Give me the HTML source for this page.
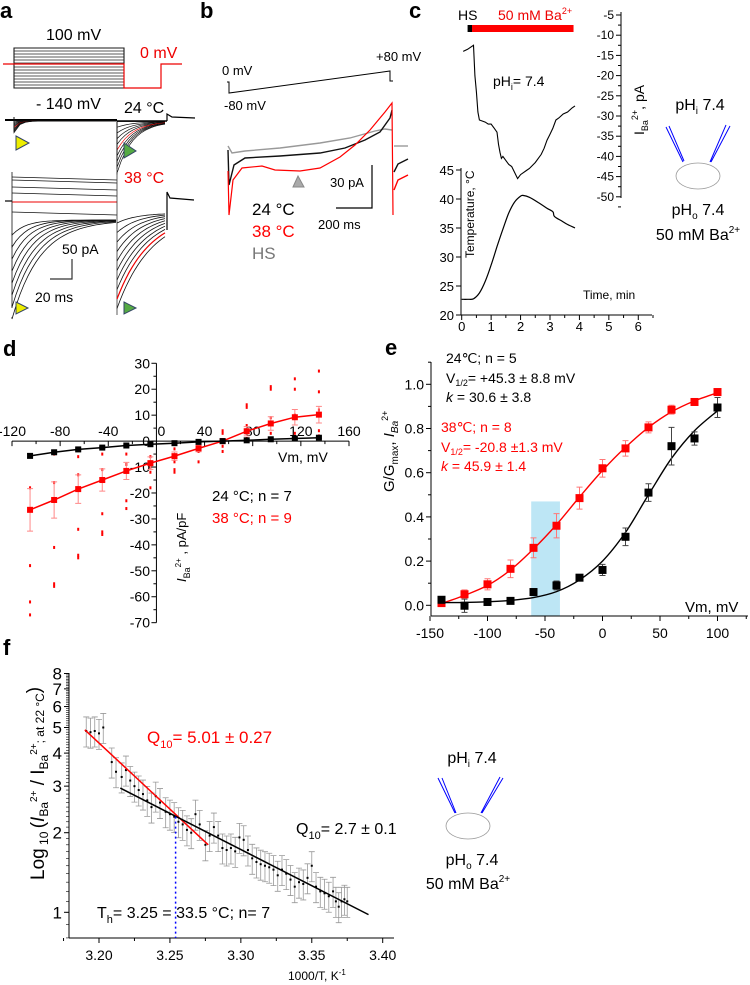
<!DOCTYPE html>
<html><head><meta charset="utf-8"><style>
html,body{margin:0;padding:0;background:#fff;overflow:hidden}
svg{display:block;font-family:"Liberation Sans",Arial,sans-serif}
</style></head><body>
<svg id="fig" width="750" height="985" viewBox="0 0 750 985" xmlns="http://www.w3.org/2000/svg">
<rect width="750" height="985" fill="#fff"/>
<g font-weight="bold" font-size="22">
<text x="0" y="18">a</text>
<text x="200" y="18">b</text>
<text x="409" y="18">c</text>
<text x="3" y="356">d</text>
<text x="385" y="355">e</text>
<text x="3" y="655">f</text>
</g>

<g id="pa">
<text x="46" y="40" font-size="16">100 mV</text>
<text x="140" y="58" font-size="16" fill="#e00">0 mV</text>
<text x="36" y="109" font-size="16">- 140 mV</text>
<text x="124" y="113" font-size="16">24 °C</text>
<text x="124" y="183" font-size="16" fill="#e00">38 °C</text>
<g id="protocol"></g>
<g id="traces24"></g>
<g id="traces38"></g>
<path d="M50 279 H72 V259" fill="none" stroke="#333" stroke-width="1.2"/>
<text x="62" y="254" font-size="14">50 pA</text>
<text x="35" y="302" font-size="14">20 ms</text>
<polygon points="16,136 29,143 16,150" fill="#ee0" stroke="#346" stroke-width="1"/>
<polygon points="124,143 136,151 124,158" fill="#5a4" stroke="#346" stroke-width="1"/>
<polygon points="16,302 28,308 16,314" fill="#ee0" stroke="#346" stroke-width="1"/>
<polygon points="124,302 136,308 124,314" fill="#5a4" stroke="#346" stroke-width="1"/>
</g>

<g id="pb">
<path d="M227 82 H229 V93 L390 71 V81 H393" fill="none" stroke="#000" stroke-width="1"/>
<text x="222" y="75" font-size="13">0 mV</text>
<text x="376" y="61" font-size="13">+80 mV</text>
<text x="224" y="110" font-size="13">-80 mV</text>
<polyline points="228,146 232,153 245,151 280,148 320,143 350,138 375,131 385,129 392,130" fill="none" stroke="#999" stroke-width="1.4"/>
<polyline points="228,150 229,185 234,165 245,158 280,156 320,153 345,148 365,140 380,132 390,118 392,110" fill="none" stroke="#111" stroke-width="1.4"/>
<polyline points="228,171 229,215 233,180 242,168 262,166 275,170 300,171 320,168 340,157 355,145 370,130 385,112 392,103 393,215" fill="none" stroke="#f00" stroke-width="1.2"/>
<polyline points="394,146 408,146" stroke="#999" stroke-width="1.4" fill="none"/>
<polyline points="394,172 398,164 408,159" stroke="#111" stroke-width="1.4" fill="none"/>
<polyline points="394,190 398,180 408,175" stroke="#f00" stroke-width="1.4" fill="none"/>
<polygon points="293,187 298,176 304,187" fill="#aaa" stroke="#888"/>
<path d="M336 208 H372 V165" fill="none" stroke="#000" stroke-width="1.2"/>
<text x="330" y="187" font-size="13">30 pA</text>
<text x="318" y="229" font-size="13">200 ms</text>
<text x="252" y="215" font-size="17">24 °C</text>
<text x="252" y="237" font-size="17" fill="#f00">38 °C</text>
<text x="252" y="259" font-size="17" fill="#777">HS</text>
</g>

<g id="pc">
<text x="458" y="20" font-size="14">HS</text>
<text x="498" y="20" font-size="14" fill="#e00">50 mM Ba<tspan font-size="9" dy="-6">2+</tspan></text>
<text x="493" y="86" font-size="14">pH<tspan font-size="9" dy="4">i</tspan><tspan dy="-4">= 7.4</tspan></text>
<text x="583" y="299" font-size="12">Time, min</text>
<text transform="translate(474,258) rotate(-90)" font-size="12">Temperature, °C</text>
<text transform="translate(644,135) rotate(-90)" font-size="14">I<tspan font-size="9" dy="4">Ba</tspan><tspan font-size="9" dy="-10">2+</tspan><tspan dy="6">, pA</tspan></text>
<g id="cAxes"></g>
<g>
<text x="700" y="110" font-size="16" text-anchor="middle">pH<tspan font-size="10" dy="4">i</tspan><tspan dy="-4"> 7.4</tspan></text>
<path d="M666 127 L683 162 M669 126 L684 161 M726 125 L710 162 M730 126 L711 162" stroke="#00f" stroke-width="1" fill="none"/>
<ellipse cx="698" cy="176" rx="22" ry="13" fill="none" stroke="#999" stroke-width="0.8"/>
<text x="698" y="215" font-size="16" text-anchor="middle">pH<tspan font-size="10" dy="4">o</tspan><tspan dy="-4"> 7.4</tspan></text>
<text x="698" y="240" font-size="16" text-anchor="middle">50 mM Ba<tspan font-size="10" dy="-7">2+</tspan></text>
</g>
</g>

<g id="pd">
<text x="278" y="462" font-size="14">Vm, mV</text>
<text x="212" y="501" font-size="15">24 °C; n = 7</text>
<text x="212" y="523" font-size="15" fill="#f00">38 °C; n = 9</text>
<text transform="translate(186,582) rotate(-90)" font-size="13"><tspan font-style="italic">I</tspan><tspan font-size="9" dy="4">Ba</tspan><tspan font-size="8" dy="-9">2+</tspan><tspan dy="5"> , pA/pF</tspan></text>
</g>

<g id="pe">
<rect id="cyanBand" fill="#bde6f5"/>
<text x="446" y="363" font-size="14">24℃; n = 5</text>
<text x="446" y="383" font-size="14">V<tspan font-size="9" dy="3">1/2</tspan><tspan dy="-3">= +45.3 ± 8.8 mV</tspan></text>
<text x="446" y="402" font-size="14"><tspan font-style="italic">k</tspan> = 30.6 ± 3.8</text>
<text x="441" y="432" font-size="14" fill="#f00">38℃; n = 8</text>
<text x="441" y="452" font-size="14" fill="#f00">V<tspan font-size="9" dy="3">1/2</tspan><tspan dy="-3">= -20.8 ±1.3 mV</tspan></text>
<text x="441" y="471" font-size="14" fill="#f00"><tspan font-style="italic">k</tspan> = 45.9 ± 1.4</text>
<text x="685" y="612" font-size="15">Vm, mV</text>
<text transform="translate(394,492) rotate(-90)" font-size="15">G/G<tspan font-size="10" dy="4">max</tspan><tspan dy="-4">, </tspan><tspan font-style="italic">I</tspan><tspan font-size="10" dy="4" font-style="italic">Ba</tspan><tspan font-size="9" dy="-10">2+</tspan></text>
</g>

<g id="pf">
<text x="147" y="743" font-size="17" fill="#f00">Q<tspan font-size="11" dy="5">10</tspan><tspan dy="-5">= 5.01 ± 0.27</tspan></text>
<text x="296" y="834" font-size="16">Q<tspan font-size="11" dy="5">10</tspan><tspan dy="-5">= 2.7 ± 0.1</tspan></text>
<text x="97" y="918" font-size="16">T<tspan font-size="11" dy="5">h</tspan><tspan dy="-5">= 3.25 = 33.5 °C; n= 7</tspan></text>
<text x="288" y="980" font-size="12">1000/T, K<tspan font-size="8" dy="-5">-1</tspan></text>
<text transform="translate(44,880) rotate(-90)" font-size="19">Log<tspan font-size="12" dy="4"> 10 </tspan><tspan dy="-4">(</tspan><tspan font-style="italic">I</tspan><tspan font-size="12" dy="4">Ba</tspan><tspan font-size="10" dy="-11">2+</tspan><tspan dy="7"> / I</tspan><tspan font-size="12" dy="4">Ba</tspan><tspan font-size="10" dy="-11">2+</tspan><tspan font-size="12" dy="7">; at 22 °C</tspan><tspan dy="-4">)</tspan></text>
<g>
<text x="472" y="763" font-size="16" text-anchor="middle">pH<tspan font-size="10" dy="4">i</tspan><tspan dy="-4"> 7.4</tspan></text>
<path d="M438 778 L455 813 M442 778 L456 813 M500 777 L481 813 M503 778 L482 813" stroke="#00f" stroke-width="1" fill="none"/>
<ellipse cx="468" cy="826" rx="22" ry="13" fill="none" stroke="#999" stroke-width="0.8"/>
<text x="472" y="865" font-size="16" text-anchor="middle">pH<tspan font-size="10" dy="4">o</tspan><tspan dy="-4"> 7.4</tspan></text>
<text x="468" y="889" font-size="16" text-anchor="middle">50 mM Ba<tspan font-size="10" dy="-7">2+</tspan></text>
</g>
</g>
</svg>
<script>
// panel c
const cTime = [0.05,0.2,0.3,0.4,0.45,0.5,0.55,0.6,0.8,0.9,1.0,1.1,1.2,1.25,1.3,1.35,1.4,1.5,1.6,1.7,1.8,1.9,2.0,2.1,2.2,2.3,2.5,2.7,2.8,2.9,3.0,3.1,3.2,3.3,3.45,3.6,3.75,3.85];
const cCurrent = [-14,-13.5,-13,-12.5,-20,-24,-29,-31,-31.5,-32,-32,-33,-34,-37,-39,-40.5,-40,-41,-42,-42.5,-44,-45.5,-44.5,-44,-43.5,-43,-41.5,-39.5,-38,-36,-34.5,-33,-31,-30.5,-29.5,-29,-28,-27.5];
const cTempTime = [0,0.2,0.4,0.6,0.8,1.0,1.2,1.4,1.6,1.8,2.0,2.1,2.3,2.6,2.9,3.1,3.15,3.4,3.6,3.85];
const cTemp = [22.7,22.7,22.8,23.8,25.8,28.6,31.8,34.8,37.6,39.5,40.5,40.6,40.3,39.4,38.4,37.8,37.0,36.2,35.6,35.0];
const cTempTicks = [20,25,30,35,40,45];
const cCurTicks = [-5,-10,-15,-20,-25,-30,-35,-40,-45,-50];
const cTimeTicks = [0,1,2,3,4,5,6];
// panel d
const dVm = [-105,-85,-65,-45,-25,-5,15,35,55,75,95,115,135];
const dRed = [-26.5,-22.7,-18.5,-15,-11.5,-8.5,-5.8,-2.8,0,3.8,6.8,9.2,10.2];
const dRedErr = [8.2,7,5.5,4.3,3.3,2.4,1.6,1.3,0.6,1.8,2.6,3,3.2];
const dBlack = [-5.7,-4.3,-3.2,-2.5,-1.7,-1.2,-0.8,-0.3,0,0.3,0.7,1,1.3];
const dBlackErr = [0.8,0.6,0.5,0.4,0.3,0.3,0.2,0.2,0.2,0.2,0.2,0.3,0.3];
const dRedPts = [[-6,-18,-48,-62,-67],[-5,-16,-41,-55,-56],[-6,-13,-34,-44,-45],[-5,-11,-28,-35,-36],[-5,-9,-12,-23,-26],[-6,-8,-10,-12,-18],[-3,-6,-8,-11,-12],[-2,-3,-4,-8],[-4,-2,0,3,4],[0,1,6,13,14],[1,3,9,20,21],[1,3,10,20,24],[2,4,12,19,27]];
const dXTicks = [-120,-80,-40,0,40,80,120,160];
const dYTicks = [30,20,10,0,-10,-20,-30,-40,-50,-60,-70];
// panel e
const eVm = [-140,-120,-100,-80,-60,-40,-20,0,20,40,60,80,100];
const eRed = [0.01,0.05,0.095,0.165,0.26,0.36,0.485,0.62,0.71,0.805,0.885,0.92,0.965];
const eRedErr = [0.015,0.02,0.025,0.04,0.045,0.055,0.05,0.04,0.035,0.025,0.02,0.015,0.01];
const eBlack = [0.025,-0.002,0.015,0.02,0.06,0.09,0.125,0.16,0.31,0.51,0.72,0.755,0.895];
const eBlackErr = [0.015,0.03,0.008,0.008,0.015,0.02,0.01,0.025,0.04,0.04,0.085,0.03,0.045];
const eRedFit = [0.008,0.045,0.09,0.16,0.255,0.365,0.49,0.61,0.715,0.805,0.875,0.925,0.962];
const eBlackFit = [0.012,0.013,0.016,0.022,0.035,0.062,0.115,0.2,0.33,0.5,0.665,0.79,0.88];
const eBand = [-62,-37,0.47];
const eXTicks = [-150,-100,-50,0,50,100];
const eYTicks = [0,0.2,0.4,0.6,0.8,1.0];
// panel f
const fX = [3.191,3.194,3.197,3.200,3.203,3.209,3.212,3.216,3.219,3.222,3.225,3.228,3.231,3.234,3.237,3.240,3.243,3.247,3.250,3.253,3.256,3.259,3.262,3.265,3.268,3.271,3.275,3.278,3.281,3.284,3.287,3.290,3.293,3.296,3.299,3.302,3.305,3.308,3.311,3.314,3.317,3.320,3.323,3.326,3.329,3.332,3.335,3.338,3.341,3.344,3.347,3.350,3.353,3.356,3.359,3.362,3.365,3.367,3.369,3.371,3.373,3.375];
const fY = [4.85,4.8,4.85,4.75,5.0,3.7,3.4,3.25,3.45,3.15,3.0,2.9,2.8,2.65,2.5,2.75,2.6,2.4,2.35,2.3,2.2,2.15,2.05,2.0,2.35,2.15,1.8,1.95,2.1,1.95,1.75,1.72,1.75,1.7,1.92,1.88,1.72,1.6,1.55,1.52,1.5,1.48,1.45,1.38,1.45,1.4,1.33,1.25,1.3,1.28,1.35,1.5,1.25,1.2,1.18,1.15,1.2,1.1,1.05,1.1,1.12,1.1];
const fRelErr = 0.13;
const fRedLine = [[3.190,4.9],[3.277,1.8]];
const fBlackLine = [[3.215,2.95],[3.390,0.98]];
const fTh = [3.254,2.3];
const fXTicks = [3.20,3.25,3.30,3.35,3.40];
const fYTicks = [1,2,3,4,5,6,7,8];

const NS='http://www.w3.org/2000/svg';
const svg=document.getElementById('fig');
function mk(tag,attrs,parent){const e=document.createElementNS(NS,tag);for(const k in attrs)e.setAttribute(k,attrs[k]);(parent||svg).appendChild(e);return e;}
function pts(xs,ys,sx,sy){return xs.map((x,i)=>sx(x).toFixed(1)+','+sy(ys[i]).toFixed(1)).join(' ');}
function smooth(P){let d='M'+P[0][0]+' '+P[0][1];for(let i=0;i<P.length-1;i++){const p0=P[Math.max(0,i-1)],p1=P[i],p2=P[i+1],p3=P[Math.min(P.length-1,i+2)];const c1=[p1[0]+(p2[0]-p0[0])/6,p1[1]+(p2[1]-p0[1])/6],c2=[p2[0]-(p3[0]-p1[0])/6,p2[1]-(p3[1]-p1[1])/6];d+=' C'+c1[0].toFixed(1)+' '+c1[1].toFixed(1)+' '+c2[0].toFixed(1)+' '+c2[1].toFixed(1)+' '+p2[0].toFixed(1)+' '+p2[1].toFixed(1);}return d;}

// PANEL A
(function(){
const g=document.getElementById('protocol');
const stepYs=[48,51,54,57,60,63,67,70,73,76,79,82,85,88];
mk('rect',{x:14,y:48,width:110,height:40,fill:'none',stroke:'#000','stroke-width':1},g);
stepYs.forEach(y=>{const l=mk('line',{x1:14,x2:124,y1:y,y2:y,stroke:'#222','stroke-width':0.7},g);

});
const r=mk('polyline',{points:'3,64 124,64 124,88 161,88 161,64 182,64',fill:'none',stroke:'#e00','stroke-width':1.2},g);


const t24=document.getElementById('traces24');
mk('line',{x1:5,x2:117,y1:120,y2:120,stroke:'#000','stroke-width':2},t24);
for(let i=0;i<10;i++){const a=i*1.3;let d='M14 117 L14 '+(121+a);for(let x=14;x<=117;x+=6){d+=' L'+x+' '+(121+a*Math.exp(-(x-14)/5)).toFixed(1);}
let d2='M117 121 L117 '+(123+i*2.6*2.2);for(let x=117;x<=167;x+=4){d2+=' L'+x+' '+(121.5+i*2.6*2.2*Math.exp(-(x-117)/16)).toFixed(1);}
const p=mk('path',{d:d+' '+d2,fill:'none',stroke:i==5?'#e00':'#111','stroke-width':0.7},t24);

}
mk('line',{x1:117,x2:167,y1:121,y2:121,stroke:'#000','stroke-width':1.6},t24);
mk('polyline',{points:'167,121 167,114 172,117 195,118',fill:'none',stroke:'#000','stroke-width':1.2},t24);
const t38=document.getElementById('traces38');
mk('line',{x1:5,x2:12,y1:201,y2:201,stroke:'#000','stroke-width':1.2},t38);
[177,180,187,193,212].forEach(y=>{mk('line',{x1:12,x2:117,y1:y,y2:y+3,stroke:'#111','stroke-width':0.8},t38);});
mk('line',{x1:12,x2:117,y1:202,y2:202,stroke:'#e00','stroke-width':1},t38);
mk('line',{x1:12,x2:12,y1:172,y2:308,stroke:'#111','stroke-width':0.8},t38);
for(let i=0;i<8;i++){const a=15+i*12;let d='M12 '+(218+a);for(let x=12;x<=117;x+=4){d+=' L'+x+' '+(220+a*Math.exp(-(x-12)/(14+i*2))).toFixed(1);}
mk('path',{d:d,fill:'none',stroke:'#111','stroke-width':0.8},t38);}
mk('line',{x1:117,x2:117,y1:172,y2:315,stroke:'#333','stroke-width':0.8},t38);
for(let i=0;i<10;i++){const a=10+i*9.5;let d='M117 '+(213+a);for(let x=117;x<=167;x+=3){d+=' L'+x+' '+(213+a*Math.exp(-(x-117)/(20+i*1.6))).toFixed(1);}
mk('path',{d:d,fill:'none',stroke:i==8?'#e00':'#111','stroke-width':i==8?1.2:0.8},t38);}
mk('polyline',{points:'167,230 167,192 170,198 194,200',fill:'none',stroke:'#000','stroke-width':1.2},t38);
})();

// PANEL C
(function(){
const g=document.getElementById('cAxes');
const tx=t=>461.7+t*29.43, ty=v=>315-(v-20)*5.8, cy=v=>15+(-5-v)*4.04;
mk('rect',{x:tx(0.2),y:25,width:tx(0.35)-tx(0.2),height:7,fill:'#000'},g);
const rb=mk('rect',{x:tx(0.35),y:25,width:tx(3.8)-tx(0.35),height:7,fill:'#f00'},g);


mk('line',{x1:461,x2:461,y1:168,y2:315,stroke:'#000'},g);
mk('line',{x1:461,x2:652,y1:315,y2:315,stroke:'#000'},g);
cTempTicks.forEach(v=>{mk('line',{x1:456,x2:461,y1:ty(v),y2:ty(v),stroke:'#000'},g);
const t=mk('text',{x:454,y:ty(v)+5,'font-size':13,'text-anchor':'end'},g);t.textContent=v;

});
cTimeTicks.forEach(v=>{mk('line',{x1:tx(v),x2:tx(v),y1:315,y2:320,stroke:'#000'},g);mk('line',{x1:tx(v+0.5),x2:tx(v+0.5),y1:315,y2:318,stroke:'#000'},g);
const t=mk('text',{x:tx(v),y:331,'font-size':13,'text-anchor':'middle'},g);t.textContent=v;

});
mk('line',{x1:621,x2:621,y1:12,y2:198,stroke:'#000'},g);
cCurTicks.forEach(v=>{mk('line',{x1:616,x2:621,y1:cy(v),y2:cy(v),stroke:'#000'},g);mk('line',{x1:618,x2:621,y1:cy(v-2.5),y2:cy(v-2.5),stroke:'#000'},g);
const t=mk('text',{x:614,y:cy(v)+4,'font-size':12,'text-anchor':'end'},g);t.textContent=v;

});
const cl=mk('polyline',{points:pts(cTime,cCurrent,tx,cy),fill:'none',stroke:'#000','stroke-width':1.1},g);


const tl=mk('path',{d:smooth(cTempTime.map((t,i)=>[tx(t),ty(cTemp[i])])),fill:'none',stroke:'#000','stroke-width':1.2},g);


})();

// PANEL D
(function(){
const g=document.getElementById('pd');
const sx=v=>12+(v+120)*337/280, sy=v=>441.1-v*2.594;
mk('line',{x1:12,x2:349,y1:sy(0),y2:sy(0),stroke:'#000'},g);
mk('line',{x1:sx(0),x2:sx(0),y1:sy(30),y2:sy(-70),stroke:'#000'},g);
dXTicks.forEach(v=>{mk('line',{x1:sx(v),x2:sx(v),y1:sy(0),y2:sy(0)+5,stroke:'#000'},g);if(v<160)mk('line',{x1:sx(v+20),x2:sx(v+20),y1:sy(0),y2:sy(0)+3,stroke:'#000'},g);
const t=mk('text',{x:sx(v)+(v==0?5:0),y:436,'font-size':14,'text-anchor':'middle'},g);t.textContent=v;

});
dYTicks.forEach(v=>{mk('line',{x1:sx(0)-5,x2:sx(0),y1:sy(v),y2:sy(v),stroke:'#000'},g);if(v>-70)mk('line',{x1:sx(0)-3,x2:sx(0),y1:sy(v-5),y2:sy(v-5),stroke:'#000'},g);
const t=mk('text',{x:150,y:sy(v)+5,'font-size':14,'text-anchor':'end'},g);t.textContent=v;

});
dRedPts.forEach((arr,i)=>arr.forEach(v=>{const r=mk('rect',{x:sx(dVm[i])-1,y:sy(v)-1.5,width:2,height:3,fill:'#f00'},g);

}));
[[dRed,dRedErr,'#f00','#f88'],[dBlack,dBlackErr,'#000','#555']].forEach(([ys,es,c,ec],k)=>{
ys.forEach((v,i)=>{const x=sx(dVm[i]);mk('path',{d:`M${x} ${sy(v+es[i])} V${sy(v-es[i])} M${x-3} ${sy(v+es[i])} h6 M${x-3} ${sy(v-es[i])} h6`,stroke:ec,'stroke-width':1,fill:'none'},g);});
const l=mk('polyline',{points:pts(dVm,ys,sx,sy),fill:'none',stroke:c,'stroke-width':1.5},g);


ys.forEach((v,i)=>{const m=mk('rect',{x:sx(dVm[i])-3,y:sy(v)-3,width:6,height:6,fill:c},g);

});
});
})();

// PANEL E
(function(){
const g=document.getElementById('pe');
const sx=v=>430+(v+150)*1.15, sy=v=>605.3-v*221;
const b=document.getElementById('cyanBand');
b.setAttribute('x',sx(eBand[0]));b.setAttribute('width',sx(eBand[1])-sx(eBand[0]));b.setAttribute('y',sy(eBand[2]));b.setAttribute('height',616-sy(eBand[2]));
mk('line',{x1:431,x2:431,y1:362,y2:616,stroke:'#000'},g);
mk('line',{x1:431,x2:748,y1:616,y2:616,stroke:'#000'},g);
eXTicks.forEach(v=>{mk('line',{x1:sx(v),x2:sx(v),y1:616,y2:621,stroke:'#000'},g);mk('line',{x1:sx(v+25),x2:sx(v+25),y1:616,y2:619,stroke:'#000'},g);
const t=mk('text',{x:sx(v),y:638,'font-size':14,'text-anchor':'middle'},g);t.textContent=v;

});
eYTicks.forEach(v=>{mk('line',{x1:426,x2:431,y1:sy(v),y2:sy(v),stroke:'#000'},g);mk('line',{x1:428,x2:431,y1:sy(v+0.1),y2:sy(v+0.1),stroke:'#000'},g);
const t=mk('text',{x:424,y:sy(v)+5,'font-size':14,'text-anchor':'end'},g);t.textContent=v.toFixed(1);

});
[[eRed,eRedErr,eRedFit,'#f00','#f77'],[eBlack,eBlackErr,eBlackFit,'#000','#444']].forEach(([ys,es,fit,c,ec],k)=>{
const f=mk('path',{d:smooth(eVm.map((x,i)=>[sx(x),sy(fit[i])])),fill:'none',stroke:c,'stroke-width':1.4},g);


ys.forEach((v,i)=>{const x=sx(eVm[i]);mk('path',{d:`M${x} ${sy(v+es[i])} V${sy(v-es[i])} M${x-3} ${sy(v+es[i])} h6 M${x-3} ${sy(v-es[i])} h6`,stroke:ec,'stroke-width':1,fill:'none'},g);
const m=mk('rect',{x:x-4,y:sy(v)-4,width:8,height:8,fill:c},g);

});
});
})();

// PANEL F
(function(){
const g=document.getElementById('pf');
const sx=v=>99+(v-3.2)*1418.5, sy=v=>912.3-264.4*Math.log10(v);
mk('line',{x1:69,x2:69,y1:673,y2:938,stroke:'#000'},g);
mk('line',{x1:69,x2:394,y1:938,y2:938,stroke:'#000'},g);
fXTicks.forEach(v=>{mk('line',{x1:sx(v),x2:sx(v),y1:938,y2:943,stroke:'#000'},g);mk('line',{x1:sx(v-0.025),x2:sx(v-0.025),y1:938,y2:941,stroke:'#000'},g);
const t=mk('text',{x:sx(v),y:960,'font-size':14,'text-anchor':'middle'},g);t.textContent=v.toFixed(2);

});
for(let v=0.8;v<=8.01;v+=0.1){mk('line',{x1:66,x2:69,y1:sy(v),y2:sy(v),stroke:'#000','stroke-width':0.6},g);}
fYTicks.forEach(v=>{mk('line',{x1:64,x2:69,y1:sy(v),y2:sy(v),stroke:'#000'},g);
const t=mk('text',{x:62,y:sy(v)+6,'font-size':17,'text-anchor':'end'},g);t.textContent=v;

});
fX.forEach((x,i)=>{const X=sx(x),hi=sy(fY[i]*(1+fRelErr)),lo=sy(fY[i]*(1-fRelErr));
mk('path',{d:`M${X} ${hi} V${lo} M${X-3} ${hi} h6 M${X-3} ${lo} h6`,stroke:'#999','stroke-width':0.8,fill:'none'},g);
const p=mk('rect',{x:X-1,y:sy(fY[i])-1,width:2,height:2,fill:'#000'},g);

});
const rl=mk('line',{x1:sx(fRedLine[0][0]),y1:sy(fRedLine[0][1]),x2:sx(fRedLine[1][0]),y2:sy(fRedLine[1][1]),stroke:'#f00','stroke-width':1.5},g);


const bl=mk('line',{x1:sx(fBlackLine[0][0]),y1:sy(fBlackLine[0][1]),x2:sx(fBlackLine[1][0]),y2:sy(fBlackLine[1][1]),stroke:'#000','stroke-width':1.5},g);


const th=mk('line',{x1:sx(fTh[0]),x2:sx(fTh[0]),y1:sy(fTh[1]),y2:938,stroke:'#00f','stroke-width':1.5,'stroke-dasharray':'2,3'},g);


})();
</script>
</body></html>
